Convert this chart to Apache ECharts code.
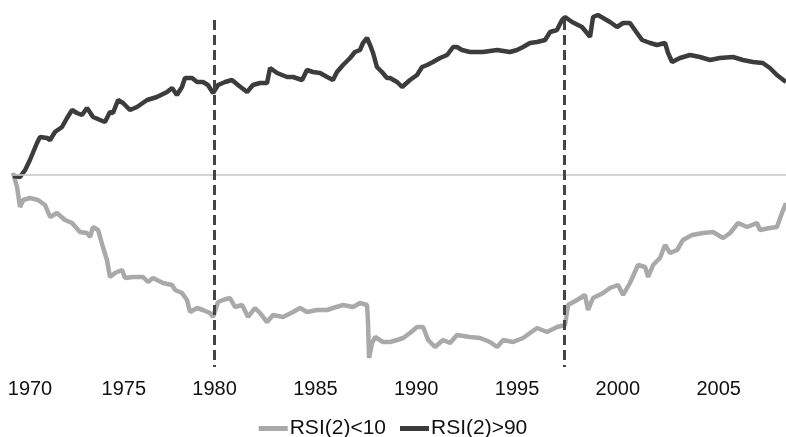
<!DOCTYPE html>
<html><head><meta charset="utf-8">
<script src="https://cdn.jsdelivr.net/npm/echarts@6/dist/echarts.min.js"></script>
<style>html,body{margin:0;padding:0;background:#fff}#c{width:786px;height:437px}</style>
</head><body><div id="c"></div>
<script>
// RSI(2)>90 cumulative curve (dark)
const highYears = [1970.00,1970.35,1970.60,1970.84,1971.19,1971.34,1971.69,1971.84,1972.08,1972.43,1972.68,1972.93,1973.17,1973.42,1973.67,1973.97,1974.32,1974.56,1974.81,1974.96,1975.21,1975.46,1975.80,1976.15,1976.65,1977.14,1977.64,1977.89,1978.13,1978.38,1978.53,1978.88,1979.13,1979.42,1979.67,1979.92,1980.17,1980.52,1980.86,1981.16,1981.61,1981.90,1982.25,1982.60,1982.75,1983.10,1983.59,1983.89,1984.34,1984.58,1984.88,1985.23,1985.58,1985.87,1986.07,1986.37,1986.72,1986.96,1987.21,1987.36,1987.56,1987.71,1987.86,1988.05,1988.30,1988.55,1988.70,1989.05,1989.30,1989.69,1990.04,1990.29,1990.54,1990.83,1991.18,1991.53,1991.83,1992.02,1992.27,1992.67,1993.31,1994.01,1994.65,1995.00,1995.30,1995.64,1995.99,1996.39,1996.64,1996.98,1997.23,1997.38,1997.73,1998.22,1998.47,1998.62,1998.77,1999.01,1999.27,1999.61,1999.96,2000.26,2000.60,2000.95,2001.20,2001.60,2001.94,2002.34,2002.49,2002.69,2003.08,2003.58,2004.07,2004.57,2005.06,2005.71,2006.20,2006.70,2007.19,2007.54,2007.89,2008.34];
const highValues = [-1,-2,5,15,32,38,37,35,43,48,57,65,62,60,67,58,55,53,63,62,75,72,65,68,75,78,83,87,80,88,97,97,93,93,90,82,90,93,95,90,83,90,92,92,107,102,98,98,95,105,103,102,98,95,103,110,117,123,125,132,137,130,122,108,103,97,97,93,88,95,100,108,110,113,117,120,128,128,125,123,123,125,123,125,128,132,133,135,143,145,155,158,153,148,142,138,158,160,157,153,148,152,152,142,135,132,130,132,122,113,117,120,118,115,117,118,115,113,112,107,100,93];
// RSI(2)<10 cumulative curve (light)
const lowYears = [1970.00,1970.20,1970.35,1970.50,1970.84,1971.24,1971.59,1971.84,1972.18,1972.58,1972.93,1973.32,1973.67,1973.82,1973.97,1974.22,1974.46,1974.66,1974.81,1975.06,1975.41,1975.56,1975.95,1976.45,1976.70,1976.94,1977.44,1977.89,1978.04,1978.38,1978.63,1978.78,1979.13,1979.42,1979.77,1979.92,1980.17,1980.42,1980.76,1981.01,1981.36,1981.66,1982.00,1982.25,1982.60,1982.90,1983.39,1983.89,1984.24,1984.58,1985.08,1985.58,1985.87,1986.37,1986.87,1987.21,1987.56,1987.61,1987.66,1987.81,1987.96,1988.35,1988.70,1989.05,1989.35,1989.69,1990.04,1990.34,1990.59,1990.93,1991.33,1991.68,1992.02,1992.67,1993.16,1993.66,1994.01,1994.31,1994.80,1995.30,1995.99,1996.49,1996.98,1997.38,1997.53,1997.98,1998.37,1998.52,1998.77,1999.27,1999.61,2000.01,2000.26,2000.60,2001.00,2001.35,2001.50,2001.75,2002.09,2002.34,2002.59,2002.94,2003.23,2003.68,2004.23,2004.72,2005.22,2005.57,2005.96,2006.41,2006.90,2007.05,2007.54,2007.89,2008.14,2008.34];
const lowValues = [2,-12,-32,-25,-23,-25,-30,-42,-38,-45,-48,-57,-58,-62,-52,-55,-72,-85,-102,-98,-95,-103,-102,-102,-107,-103,-108,-110,-115,-118,-125,-137,-133,-135,-138,-142,-127,-125,-123,-132,-130,-142,-133,-138,-147,-140,-142,-137,-133,-137,-135,-135,-133,-130,-132,-128,-130,-148,-183,-168,-162,-167,-167,-165,-163,-158,-152,-152,-165,-172,-165,-168,-160,-162,-163,-167,-172,-165,-167,-163,-153,-157,-152,-150,-130,-125,-120,-135,-123,-118,-113,-110,-120,-108,-90,-92,-102,-90,-83,-70,-78,-75,-65,-60,-58,-57,-63,-58,-48,-52,-48,-55,-53,-52,-38,-28];
const tickYears = [1970,1975,1980,1985,1990,1995,2000,2005];
const eventYears = [1980.0, 1997.33];
const seriesNames = ['RSI(2)<10','RSI(2)>90'];

const zip = (a,b) => a.map((v,i)=>[v,b[i]]);
const chart = echarts.init(document.getElementById('c'), null, {renderer:'canvas'});
chart.setOption({
  animation:false,
  backgroundColor:'#ffffff',
  grid:{left:13,right:0,top:5,bottom:70},
  legend:{
    top:413,left:'center',
    itemWidth:29,itemHeight:5,itemGap:14,
    icon:'rect',
    textStyle:{fontFamily:'Liberation Sans',fontSize:21,color:'#111',padding:[0,0,0,-3]},
    data:seriesNames
  },
  xAxis:{
    type:'value',min:1970,max:2008.34,interval:5,
    axisLine:{lineStyle:{color:'#d2d2d2',width:2}},
    axisTick:{show:false},
    splitLine:{show:false},
    axisLabel:{
      margin:12,color:'#111',fontFamily:'Liberation Sans',fontSize:20,
      showMaxLabel:false,
      formatter:function(v){
        const y=Math.round(v);
        if(!tickYears.includes(y)) return '';
        if(y===1970) return '{a|'+y+'}';
        if(y===1975) return '{b|'+y+'}';
        return String(y);
      },
      rich:{
        a:{fontFamily:'Liberation Sans',fontSize:20,color:'#111',padding:[0,0,0,34]},
        b:{fontFamily:'Liberation Sans',fontSize:20,color:'#111',padding:[0,0,0,20]}
      }
    }
  },
  yAxis:{
    type:'value',min:-192,max:170,
    show:false,splitLine:{show:false}
  },
  series:[
    {
      name:seriesNames[0],type:'line',showSymbol:false,symbol:'none',
      data:zip(lowYears,lowValues),
      lineStyle:{color:'#a9a9a9',width:4.5},itemStyle:{color:'#a9a9a9'},
      z:2,
      markLine:{
        silent:true,symbol:'none',label:{show:false},
        lineStyle:{color:'#d4d4d4',width:1.5,type:'solid'},
        data:[{yAxis:0}]
      }
    },
    {
      name:seriesNames[1],type:'line',showSymbol:false,symbol:'none',
      data:zip(highYears,highValues),
      lineStyle:{color:'#3c3c3c',width:4.5},itemStyle:{color:'#3c3c3c'},
      z:3,
      markLine:{
        silent:true,symbol:'none',label:{show:false},
        lineStyle:{color:'#454545',width:3,type:[10,5]},
        data:eventYears.map(e=>[{coord:[e,155]},{coord:[e,-192]}])
      }
    }
  ]
});
</script></body></html>
